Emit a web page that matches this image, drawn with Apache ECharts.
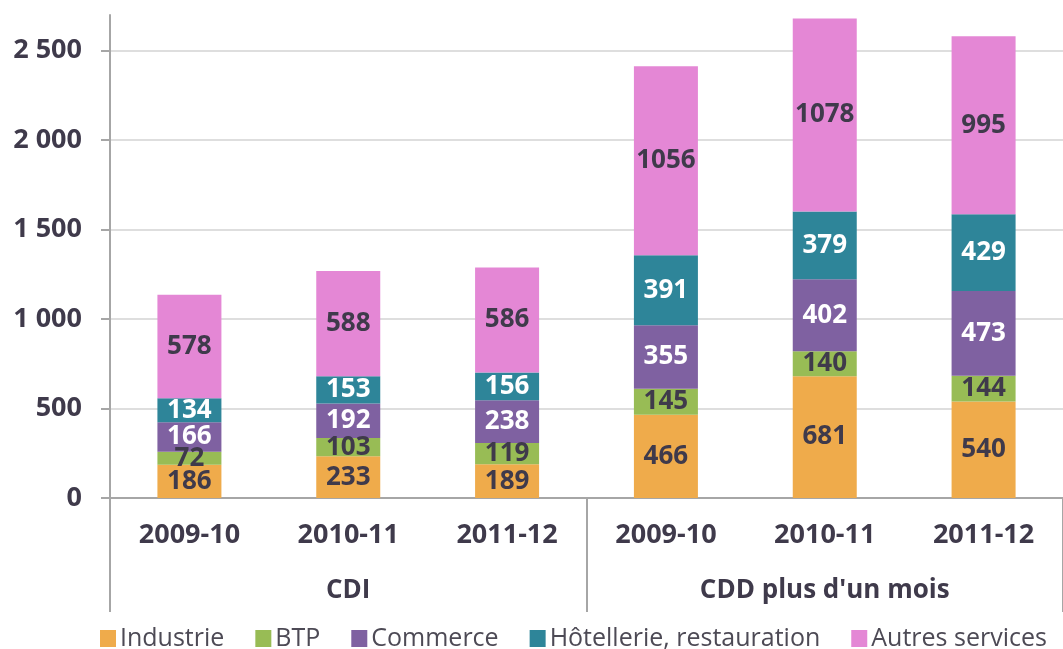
<!DOCTYPE html>
<html>
<head>
<meta charset="utf-8">
<script src="https://cdn.jsdelivr.net/npm/echarts@6/dist/echarts.min.js"></script>
<style>
html,body{margin:0;padding:0;background:#fff;}
#chart{width:1063px;height:649px;}
</style>
</head>
<body>
<div id="chart"></div>
<script>
const years = ['2009-10', '2010-11', '2011-12', '2009-10', '2010-11', '2011-12'];
const groups = ['CDI', "CDD plus d'un mois"];
const industrie = [186, 233, 189, 466, 681, 540];
const btp = [72, 103, 119, 145, 140, 144];
const commerce = [166, 192, 238, 355, 402, 473];
const hotellerie = [134, 153, 156, 391, 379, 429];
const autres = [578, 588, 586, 1056, 1078, 995];
const yTicks = [0, 500, 1000, 1500, 2000, 2500];

const FONT = "'Open Sans', 'Noto Sans', sans-serif";
const DARK = '#3f3a4b';

function fmt(v) {
  return String(v).replace(/\B(?=(\d{3})+(?!\d))/g, ' ');
}

const seriesDefs = [
  { name: 'Industrie', data: industrie, color: '#efab4b', label: DARK },
  { name: 'BTP', data: btp, color: '#98bc55', label: DARK },
  { name: 'Commerce', data: commerce, color: '#7f61a1', label: '#ffffff' },
  { name: 'Hôtellerie, restauration', data: hotellerie, color: '#2e8599', label: '#ffffff' },
  { name: 'Autres services', data: autres, color: '#e487d5', label: DARK }
];

const chart = echarts.init(document.getElementById('chart'), null, { renderer: 'canvas' });
chart.setOption({
  backgroundColor: '#ffffff',
  animation: false,
  textStyle: { fontFamily: FONT },
  legend: {
    top: 621,
    left: 95,
    icon: 'rect',
    itemWidth: 16,
    itemHeight: 17,
    itemGap: 31,
    textStyle: { fontFamily: FONT, fontSize: 25, color: '#4d4a55', padding: [0, 0, 0, -1] },
    data: seriesDefs.map(s => s.name)
  },
  grid: { left: 110, top: 15, width: 960, height: 483, containLabel: false },
  xAxis: [
    {
      type: 'category',
      data: years,
      position: 'bottom',
      axisLine: { show: true, lineStyle: { color: '#a6a6a6', width: 2 } },
      axisTick: { show: false },
      axisLabel: { margin: 24, fontFamily: FONT, fontSize: 27, fontWeight: 'bold', color: DARK }
    },
    {
      type: 'category',
      data: groups,
      position: 'bottom',
      axisLine: { show: false },
      axisTick: { show: true, inside: false, length: 114, lineStyle: { color: '#a6a6a6', width: 2 } },
      axisLabel: { margin: 80, fontFamily: FONT, fontSize: 26, fontWeight: 'bold', color: DARK },
      splitLine: { show: false }
    }
  ],
  yAxis: {
    type: 'value',
    min: 0,
    max: 2700,
    interval: 500,
    axisLine: { show: true, lineStyle: { color: '#a6a6a6', width: 2 } },
    axisTick: { show: true, length: 9, customValues: yTicks, lineStyle: { color: '#a6a6a6', width: 2 } },
    axisLabel: {
      margin: 28, customValues: yTicks,
      fontFamily: FONT, fontSize: 27, fontWeight: 'bold', color: DARK,
      formatter: v => fmt(v)
    },
    splitLine: { show: true, lineStyle: { color: '#dedede', width: 2 } }
  },
  series: seriesDefs.map(s => ({
    name: s.name,
    type: 'bar',
    stack: 'total',
    barWidth: 64,
    data: s.data,
    itemStyle: { color: s.color },
    label: {
      show: true,
      position: 'inside',
      fontFamily: FONT,
      fontSize: 26,
      fontWeight: 'bold',
      color: s.label,
      textBorderWidth: 0
    },
    emphasis: { disabled: true }
  }))
});
</script>
</body>
</html>
